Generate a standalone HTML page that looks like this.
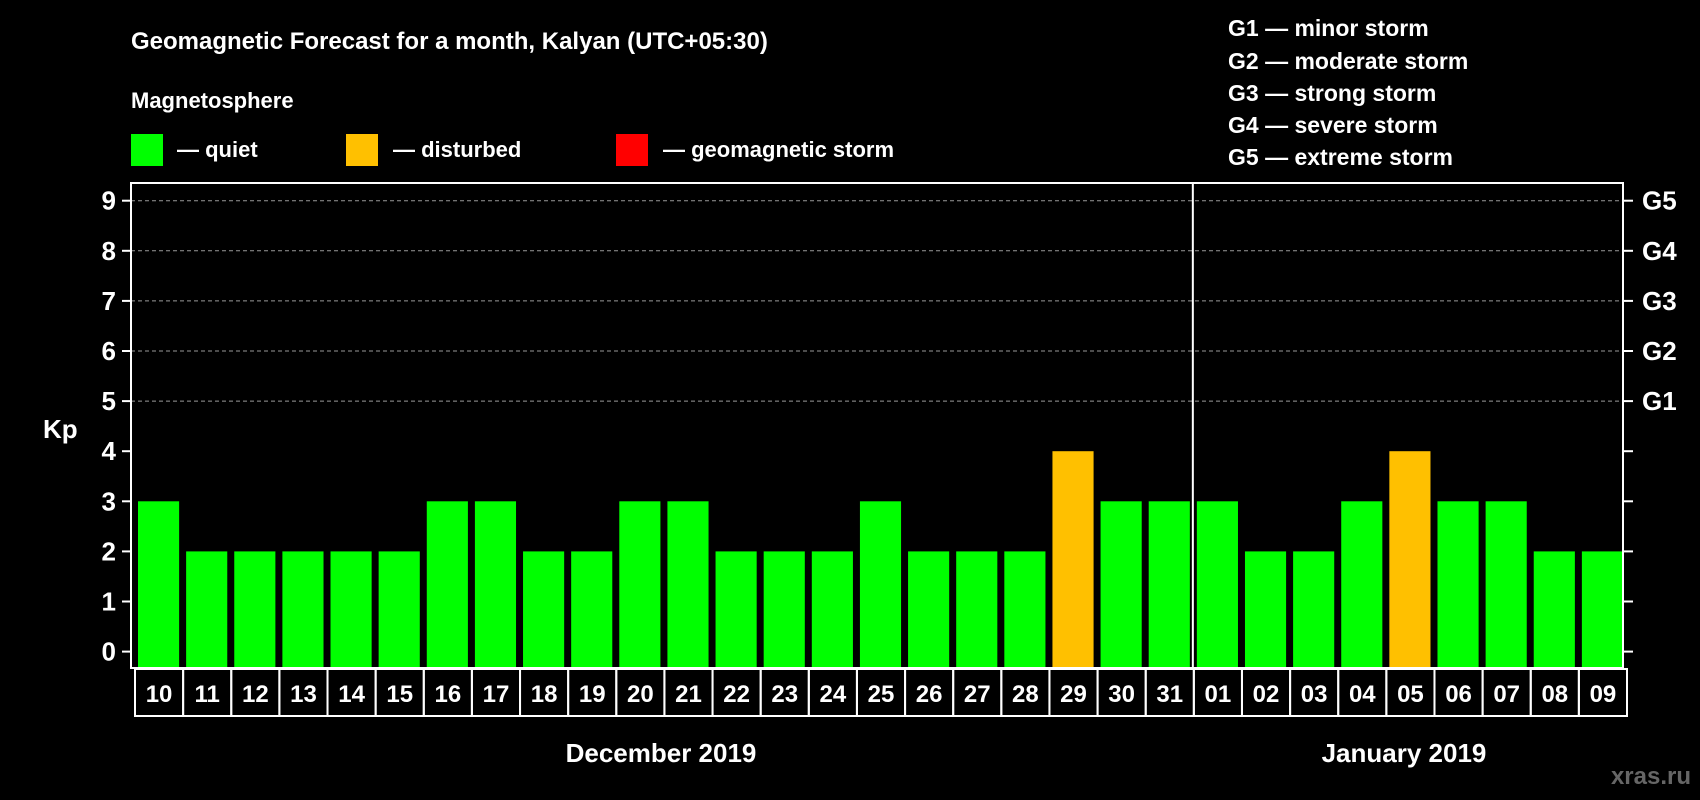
<!DOCTYPE html>
<html><head><meta charset="utf-8"><style>
html,body{margin:0;padding:0;background:#000;}
svg{display:block;font-family:"Liberation Sans",Arial,sans-serif;font-weight:bold;}
</style></head><body>
<svg id="chart" width="1700" height="800" viewBox="0 0 1700 800" xmlns="http://www.w3.org/2000/svg">
<rect width="1700" height="800" fill="#000"/>
<text x="131" y="49" fill="#fff" font-size="24">Geomagnetic Forecast for a month, Kalyan (UTC+05:30)</text>
<text x="131" y="108" fill="#fff" font-size="22">Magnetosphere</text>
<g>
<rect x="131" y="134" width="32" height="32" fill="#00ff00"/>
<text x="177" y="157" fill="#fff" font-size="22">— quiet</text></g>
<g>
<rect x="346" y="134" width="32" height="32" fill="#ffc000"/>
<text x="393" y="157" fill="#fff" font-size="22">— disturbed</text></g>
<g>
<rect x="616" y="134" width="32" height="32" fill="#ff0000"/>
<text x="663" y="157" fill="#fff" font-size="22">— geomagnetic storm</text></g>
<g fill="#fff" font-size="23">
<text x="1228" y="36">G1 — minor storm</text>
<text x="1228" y="69">G2 — moderate storm</text>
<text x="1228" y="101">G3 — strong storm</text>
<text x="1228" y="133">G4 — severe storm</text>
<text x="1228" y="165">G5 — extreme storm</text>
</g>
<text x="43" y="438" fill="#fff" font-size="26">Kp</text>
<g id="grid"></g><g id="bars"></g><g id="axes"></g><g id="labels"></g>
<text x="661" y="762" fill="#fff" font-size="26" text-anchor="middle">December 2019</text>
<text x="1404" y="762" fill="#fff" font-size="26" text-anchor="middle">January 2019</text>
<text x="1691" y="784" fill="#666" font-size="24" text-anchor="end">xras.ru</text>
</svg>
<script>
const days = ["10","11","12","13","14","15","16","17","18","19","20","21","22","23","24","25","26","27","28","29","30","31","01","02","03","04","05","06","07","08","09"];
const kpValues = [3,2,2,2,2,2,3,3,2,2,3,3,2,2,2,3,2,2,2,4,3,3,3,2,2,3,4,3,3,2,2];
const yTicks = [0,1,2,3,4,5,6,7,8,9];
const gLabels = ["G1","G2","G3","G4","G5"];
const monthSplitIndex = 22;

const NS = "http://www.w3.org/2000/svg";
const L = 131, R = 1623, T = 183, B = 668;
const y0 = 651.6, unit = 50.1;
const pitch = (R - L) / days.length;
function yScale(v){ return y0 - v * unit; }
function xScale(i){ return L + i * pitch; }
function mk(tag, attrs, parent){ const e = document.createElementNS(NS, tag); for (const k in attrs) e.setAttribute(k, attrs[k]); parent.appendChild(e); return e; }

const grid = document.getElementById('grid'), bars = document.getElementById('bars'), axes = document.getElementById('axes'), labels = document.getElementById('labels');

yTicks.forEach(v => {
  const y = yScale(v);
  if (v >= 5) {
    const g = mk('line', {x1:L, x2:R, y1:y, y2:y, stroke:'#999', 'stroke-width':1, 'stroke-dasharray':'4,3'}, grid);
    
    
  }
  const tl = mk('line', {x1:L-9, x2:L, y1:y, y2:y, stroke:'#fff', 'stroke-width':2}, axes);
  
  
  const tr = mk('line', {x1:R, x2:R+10, y1:y, y2:y, stroke:'#fff', 'stroke-width':2}, axes);
  
  
  const t = mk('text', {x:116, y:y+9, fill:'#fff', 'font-size':26, 'text-anchor':'end'}, axes);
  t.textContent = v;
  
  
});
gLabels.forEach((g, i) => {
  const t = mk('text', {x:1642, y:yScale(5+i)+9, fill:'#fff', 'font-size':26}, axes);
  t.textContent = g;
  
  
});

kpValues.forEach((v, i) => {
  const x = xScale(i) + 7;
  const r = mk('rect', {x:x, y:yScale(v), width:pitch-7, height:B - yScale(v), fill: v >= 5 ? '#ff0000' : (v >= 4 ? '#ffc000' : '#00ff00')}, bars);
  
  
  const box = mk('rect', {x:xScale(i)+4, y:B+1, width:pitch, height:47, fill:'none', stroke:'#fff', 'stroke-width':2}, labels);
  
  
  const t = mk('text', {x:xScale(i)+4+pitch/2, y:B+34, fill:'#fff', 'font-size':24, 'text-anchor':'middle'}, labels);
  t.textContent = days[i];
  
  
});

const frame = mk('rect', {x:L, y:T, width:R-L, height:B-T, fill:'none', stroke:'#fff', 'stroke-width':2}, axes);


const sx = xScale(monthSplitIndex) + 3;
const div = mk('line', {x1:sx, x2:sx, y1:T, y2:B, stroke:'#fff', 'stroke-width':2}, axes);


</script>
</body></html>
